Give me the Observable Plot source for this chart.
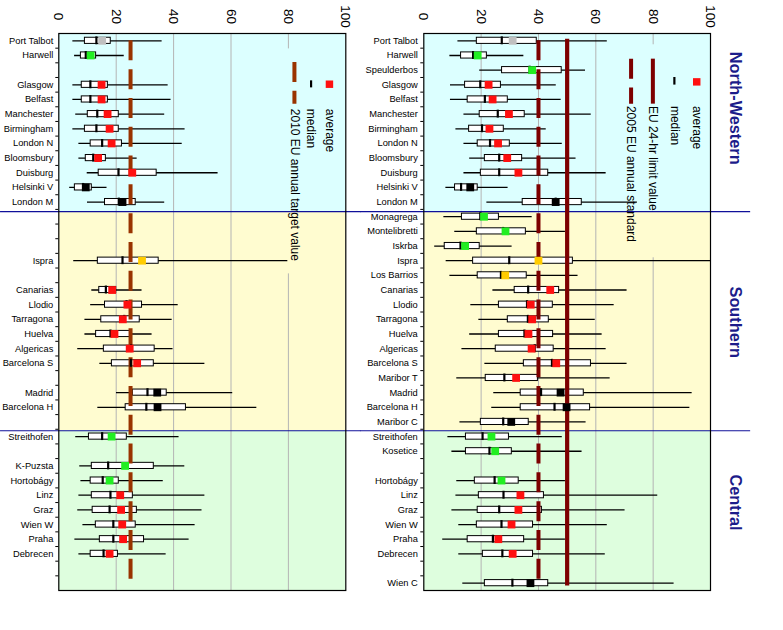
<!DOCTYPE html>
<html><head><meta charset="utf-8">
<script src="https://cdn.jsdelivr.net/npm/d3@7"></script>
<script src="https://cdn.jsdelivr.net/npm/@observablehq/plot@0.6"></script>
<style>
body{margin:0;background:#fff;}
#wrap{position:relative;width:783px;height:630px;overflow:hidden;}
#left{position:absolute;left:0;top:0;width:360px;height:630px;}
#right{position:absolute;left:360px;top:0;width:423px;height:630px;}
</style></head><body><div id="wrap"><div id="left"></div><div id="right"></div></div>
<script>
// ---- shared row layout (site order, top to bottom) ----
const rows = ["Port Talbot","Harwell","Speulderbos","Glasgow","Belfast","Manchester","Birmingham","London N","Bloomsbury","Duisburg","Helsinki V","London M","Monagrega","Montelibretti","Iskrba","Ispra","Los Barrios","Canarias","Llodio","Tarragona","Huelva","Algericas","Barcelona S","Maribor T","Madrid","Barcelona H","Maribor C","Streithofen","Kosetice","K-Puzsta","Hortobágy","Linz","Graz","Wien W","Praha","Debrecen","","Wien C"];
const regionNames = ["North-Western","Southern","Central"];
const regionStart = [-0.5, 11.65, 26.6];
const regionEnd = [11.65, 26.6, 37.5];
const xTicks = [0,20,40,60,80,100];

// site types (colour of the average square)
const typeNames = ["industrial","rural","urban","kerbside","suburban"];
const typeColors = ["#c0c0c0","#22ee22","#ff1010","#000000","#ffcc00"];

// ---- left panel ----
const sitesL = ["Port Talbot","Harwell","Glasgow","Belfast","Manchester","Birmingham","London N","Bloomsbury","Duisburg","Helsinki V","London M","Ispra","Canarias","Llodio","Tarragona","Huelva","Algericas","Barcelona S","Madrid","Barcelona H","Streithofen","K-Puzsta","Hortobágy","Linz","Graz","Wien W","Praha","Debrecen"];
const minL = [4.9,5.5,4.9,4.9,5.9,4.9,7.0,7.0,9.9,3.8,10.0,5.2,11.5,11.1,9.1,9.1,6.6,14.3,20.1,13.6,5.9,7.3,7.7,7.0,6.6,8.4,5.6,7.0];
const q1L = [9.1,7.7,8.0,8.0,10.1,9.1,11.1,9.4,13.9,5.6,16.1,13.6,14.1,16.1,14.8,13.0,15.7,18.5,25.8,23.3,10.5,11.5,11.1,11.5,11.8,12.9,14.3,11.1];
const medL = [13.1,9.4,11.0,11.0,13.4,13.1,15.1,12.0,20.8,8.5,20.9,22.2,16.4,23.6,22.8,18.0,25.2,25.1,30.9,30.5,15.1,17.2,15.3,18.0,17.7,19.0,19.0,15.6];
const q3L = [18.1,13.0,17.1,17.1,20.9,20.9,22.0,16.4,34.1,11.5,26.8,34.8,20.0,29.0,28.2,25.2,33.4,33.1,37.6,44.3,23.7,33.1,20.9,25.8,27.2,26.8,29.7,20.6];
const maxL = [36.0,22.8,38.1,39.1,36.9,44.0,43.0,27.3,55.5,16.8,36.9,79.8,29.0,41.6,39.5,32.5,39.8,50.9,60.6,69.0,41.9,43.9,36.4,50.9,49.9,47.5,45.4,37.4];
const avgL = [15.1,11.1,14.9,14.9,17.0,17.7,18.4,13.7,25.6,9.4,22.2,29.0,18.6,23.9,22.3,19.4,24.7,27.3,34.3,34.4,18.4,23.1,17.7,21.4,21.7,22.1,22.4,17.7];
const typeL = ["industrial","rural","urban","urban","urban","urban","urban","urban","urban","kerbside","kerbside","suburban","urban","urban","urban","urban","urban","urban","kerbside","kerbside","rural","rural","rural","urban","urban","urban","urban","urban"];
const targetL = 25;

// ---- right panel ----
const sitesR = ["Port Talbot","Harwell","Speulderbos","Glasgow","Belfast","Manchester","Birmingham","London N","Bloomsbury","Duisburg","Helsinki V","London M","Monagrega","Montelibretti","Iskrba","Ispra","Los Barrios","Canarias","Llodio","Tarragona","Huelva","Algericas","Barcelona S","Maribor T","Madrid","Barcelona H","Maribor C","Streithofen","Kosetice","Hortobágy","Linz","Graz","Wien W","Praha","Debrecen","Wien C"];
const minR = [11.9,9.1,19.5,9.3,9.3,14.0,11.2,14.0,16.0,14.0,7.7,22.0,7.0,10.8,3.8,7.8,9.1,24.1,16.4,19.2,16.0,13.3,21.3,11.5,24.4,23.7,12.6,8.4,9.8,11.5,11.2,9.8,12.2,6.6,12.2,13.6];
const q1R = [18.5,13.0,27.3,14.4,15.3,19.5,15.8,18.8,21.3,19.9,10.9,34.5,13.3,18.5,7.3,17.2,18.8,31.7,26.2,29.3,26.2,25.1,34.9,21.6,33.8,33.8,19.9,14.7,14.7,17.8,19.2,18.8,18.5,15.3,20.6,21.3];
const medR = [27.2,17.2,36.9,19.7,21.3,25.8,20.3,23.1,26.3,26.3,13.0,46.0,19.7,27.7,12.8,29.8,26.9,36.4,36.0,36.3,35.1,38.7,44.7,28.1,40.9,45.6,27.7,20.5,22.9,24.7,27.8,26.3,27.1,24.1,27.4,30.9];
const q3R = [39.4,22.0,48.1,26.9,29.3,35.2,27.9,30.0,34.3,43.4,18.8,55.1,26.2,35.6,19.5,52.0,35.9,47.2,45.0,43.6,45.1,45.3,58.3,39.8,55.8,58.0,36.6,29.7,30.7,33.1,41.9,41.2,38.1,35.0,38.1,43.4];
const maxR = [64.0,34.9,56.4,46.2,47.9,58.4,42.7,48.3,53.1,63.6,29.4,74.5,37.8,49.4,30.8,100,53.8,70.9,66.4,59.8,62.2,63.6,70.9,65.0,93.6,92.8,56.6,48.3,55.2,49.4,81.6,70.2,64.0,49.4,63.3,87.3];
const avgR = [31.0,18.8,37.8,22.6,24.0,29.7,22.9,25.9,29.1,33.0,16.2,46.0,21.0,28.5,14.4,40.0,28.4,44.1,37.3,37.8,36.5,37.6,46.2,32.2,47.7,49.8,30.5,23.6,24.9,27.1,33.7,33.0,30.6,26.0,31.0,37.2];
const typeR = ["industrial","rural","rural","urban","urban","urban","urban","urban","urban","urban","kerbside","kerbside","rural","rural","rural","suburban","suburban","urban","urban","urban","urban","urban","urban","urban","kerbside","kerbside","kerbside","rural","rural","rural","urban","urban","urban","urban","urban","kerbside"];
const annualR = 40;
const limitR = 50;

// ---- build ----
const FONT = "'Liberation Sans', Arial, Helvetica, sans-serif";
const bgColors = ["#dcffff","#fffcd0","#defede"];
const regions = regionNames.map((n,i)=>({name:n,start:regionStart[i],end:regionEnd[i],color:bgColors[i]}));
const boundaries = d3.range(0.5, 37, 1);

function table(sites, mn, q1, md, q3, mx, av, ty){
  return sites.map((s,i)=>({site:s,row:rows.indexOf(s),min:mn[i],q1:q1[i],med:md[i],q3:q3[i],max:mx[i],avg:av[i],type:ty[i]}));
}

function panel(o){
  const data = o.data;
  const marks = [
    ...regions.map(r=>Plot.rect([r],{x1:0,x2:100,y1:"start",y2:"end",fill:r.color})),
    Plot.ruleX([20,40,60],{stroke:"#b4b4b4",strokeWidth:1}),
    Plot.ruleX([80],{y1:-0.5,y2:o.gridGap[0],stroke:"#b4b4b4"}),
    Plot.ruleX([80],{y1:o.gridGap[1],y2:37.5,stroke:"#b4b4b4"}),
    Plot.ruleY(regionStart.slice(1),{y:d=>d,x1:o.sepX[0],x2:o.sepX[1],stroke:"#10109a",strokeWidth:1.1}),
    Plot.ruleY(data,{y:"row",x1:"min",x2:"max",stroke:"#000",strokeWidth:1.3}),
    Plot.rect(data,{x1:"q1",x2:"q3",y1:d=>d.row-0.21,y2:d=>d.row+0.21,fill:"#fff",stroke:"#000",strokeWidth:1}),
    ...o.lines,
    Plot.ruleX(data,{x:"med",y1:d=>d.row-0.27,y2:d=>d.row+0.27,stroke:"#000",strokeWidth:2.2}),
    Plot.dot(data,{x:"avg",y:"row",symbol:"square",r:4.4,fill:"type",stroke:null}),
    Plot.frame({stroke:"#000",strokeWidth:1.2}),
    Plot.axisY({ticks:boundaries,tickSize:3,tickFormat:()=>"",label:null}),
    Plot.text(xTicks,{x:d=>d,text:d=>String(d),frameAnchor:"top",dy:-17,rotate:90,textAnchor:"middle",lineAnchor:"middle",fontSize:13.5,fill:"#000"}),
    Plot.text(data,{y:"row",text:"site",frameAnchor:"left",dx:o.labelDx,textAnchor:"end",lineAnchor:"middle",fontSize:9.3,fill:"#000"}),
    ...o.legend
  ];
  return Plot.plot({
    width:o.width, height:630,
    marginLeft:o.ml, marginRight:o.mr, marginTop:33, marginBottom:40,
    x:{domain:[0,100],axis:null},
    y:{domain:[-0.5,37.5],reverse:true,axis:null},
    color:{domain:typeNames,range:typeColors},
    style:{fontFamily:FONT,background:"transparent",overflow:"visible",color:"#000"},
    marks
  });
}

const brown = "#993300", maroon = "#7d0000";
const dash = "20,8.8";

const leftPlot = panel({
  data: table(sitesL,minL,q1L,medL,q3L,maxL,avgL,typeL),
  width:360, ml:58.3, mr:14.7, labelDx:-5.5,
  gridGap:[0.55,15.9], sepX:[-20.3,105.3],
  lines:[
    Plot.ruleX([targetL],{y1:0,y2:37,stroke:brown,strokeWidth:4,strokeDasharray:dash})
  ],
  legend:[
    Plot.dot([0],{x:94.3,y:2.96,symbol:"square",r:4.2,fill:"#ff1010"}),
    Plot.ruleX([87.9],{y1:2.73,y2:3.21,stroke:"#000",strokeWidth:2.2}),
    Plot.ruleX([82.1],{y1:1.48,y2:4.32,stroke:brown,strokeWidth:4,strokeDasharray:dash}),
    Plot.text([["average",94.3],["median",87.9],["2010 EU annual target value",82.1]],
      {x:d=>d[1],y:4.64,text:d=>d[0],rotate:90,textAnchor:"start",lineAnchor:"middle",fontSize:12,fill:"#000"})
  ]
});

const rightPlot = panel({
  data: table(sitesR,minR,q1R,medR,q3R,maxR,avgR,typeR),
  width:423, ml:63.3, mr:73, labelDx:-6,
  gridGap:[0.27,14.8], sepX:[-22.1,114],
  lines:[
    Plot.ruleX([annualR],{y1:0,y2:37,stroke:maroon,strokeWidth:4,strokeDasharray:dash}),
    Plot.ruleX([limitR],{y1:-0.1,y2:37.2,stroke:maroon,strokeWidth:4.2})
  ],
  legend:[
    Plot.dot([0],{x:95.2,y:2.8,symbol:"square",r:4.2,fill:"#ff1010"}),
    Plot.ruleX([87.4],{y1:2.5,y2:3.02,stroke:"#000",strokeWidth:2.2}),
    Plot.ruleX([79.9],{y1:1.25,y2:4.32,stroke:maroon,strokeWidth:4}),
    Plot.ruleX([72.3],{y1:1.25,y2:4.32,stroke:maroon,strokeWidth:4,strokeDasharray:dash}),
    Plot.text([["average",95.2],["median",87.4],["EU 24-hr limit value",79.9],["2005 EU annual standard",72.3]],
      {x:d=>d[1],y:4.44,text:d=>d[0],rotate:90,textAnchor:"start",lineAnchor:"middle",fontSize:12,fill:"#000"}),
    Plot.text(regionNames.map((n,i)=>({name:n,row:[4.6,19.2,31.5][i]})),
      {y:"row",text:"name",frameAnchor:"right",dx:25,rotate:90,textAnchor:"middle",lineAnchor:"middle",fontSize:16.3,fontWeight:"bold",fill:"#1c1c8a"})
  ]
});

document.getElementById("left").appendChild(leftPlot);
document.getElementById("right").appendChild(rightPlot);
</script>
</body></html>
